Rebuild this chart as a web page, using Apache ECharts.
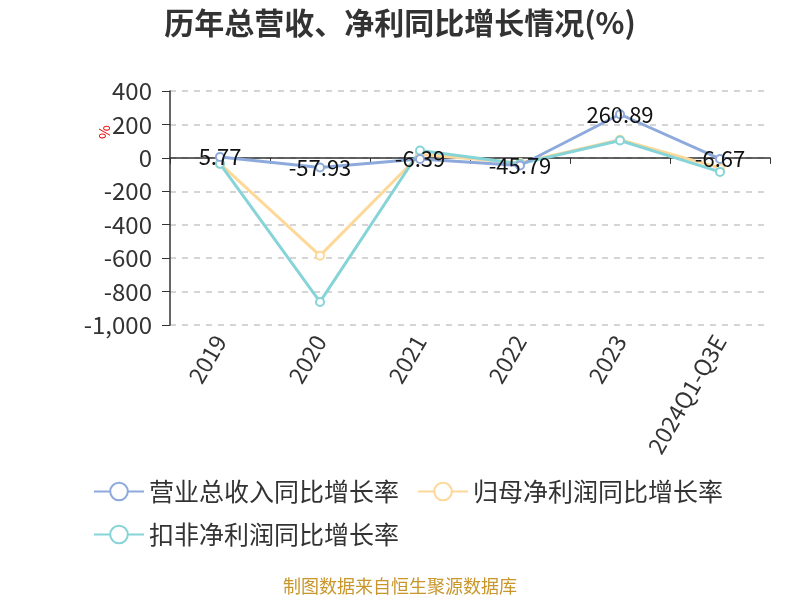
<!DOCTYPE html>
<html><head><meta charset="utf-8">
<script src="https://cdn.jsdelivr.net/npm/echarts@6/dist/echarts.min.js"></script>
<style>html,body{margin:0;padding:0;background:#fff}#c{width:800px;height:600px}</style>
</head><body><div id="c"></div>
<script>
var categories = ['2019','2020','2021','2022','2023','2024Q1-Q3E'];
var revenueGrowth = [5.77, -57.93, -6.39, -45.79, 260.89, -6.67];
var netProfitGrowth = [-35, -585, 20, -30, 108, -60];
var deductedProfitGrowth = [-36, -862, 44, -35, 104, -84];
var seriesNames = ['营业总收入同比增长率','归母净利润同比增长率','扣非净利润同比增长率'];
var colors = ['#8eaadc','#fdd898','#86d4d8'];

var chart = echarts.init(document.getElementById('c'));
var font = '"Noto Sans CJK SC","Noto Sans",sans-serif';
function mk(name, data, color, label){
  return {
    name: name, type: 'line', data: data, symbol: 'emptyCircle', symbolSize: 8,
    lineStyle: {width: 3, color: color}, itemStyle: {color: color, borderWidth: 2},
    label: label ? {show: true, position: 'inside', color: '#111', fontSize: 22, fontFamily: font} : {show: false},
    z: label ? 3 : 2
  };
}
chart.setOption({
  animation: false,
  color: colors,
  title: {text: '历年总营收、净利同比增长情况(%)', left: 'center', top: 3,
    textStyle: {fontSize: 30, fontWeight: 'bold', color: '#333', fontFamily: font}},
  grid: {left: 170, right: 30, top: 91, bottom: 275},
  legend: {left: 88, top: 474, width: 660, itemGap: 18, itemWidth: 50, itemHeight: 22,
    textStyle: {fontSize: 25, color: '#333', fontFamily: font},
    data: seriesNames},
  xAxis: {type: 'category', data: categories, boundaryGap: true,
    axisLine: {show: true, onZero: true, lineStyle: {color: '#333', width: 1.5}},
    axisTick: {show: true, alignWithLabel: false, length: 6, lineStyle: {color: '#333'}},
    axisLabel: {rotate: 60, fontSize: 23, color: '#333', fontFamily: font, margin: 12, interval: 0},
    splitLine: {show: false}},
  yAxis: {type: 'value', min: -1000, max: 400, interval: 200,
    axisLine: {show: true, lineStyle: {color: '#333', width: 1.5}},
    axisTick: {show: true, length: 8, lineStyle: {color: '#333'}},
    axisLabel: {fontSize: 24, color: '#333', fontFamily: font, margin: 18,
      formatter: function(v){ return v.toLocaleString('en-US'); }},
    splitLine: {show: true, lineStyle: {type: [6,6], color: '#c8c8c8', width: 1.5}}},
  graphic: [
    {type: 'text', x: 104, y: 132, rotation: Math.PI/2,
      style: {text: '%', fill: '#e00', fontSize: 15, fontFamily: font, align: 'center', verticalAlign: 'middle'}},
    {type: 'text', left: 'center', top: 577,
      style: {text: '制图数据来自恒生聚源数据库', fill: '#c8962a', fontSize: 18, fontFamily: font}}
  ],
  series: [
    mk(seriesNames[0], revenueGrowth, colors[0], true),
    mk(seriesNames[1], netProfitGrowth, colors[1], false),
    mk(seriesNames[2], deductedProfitGrowth, colors[2], false)
  ]
});
</script></body></html>
